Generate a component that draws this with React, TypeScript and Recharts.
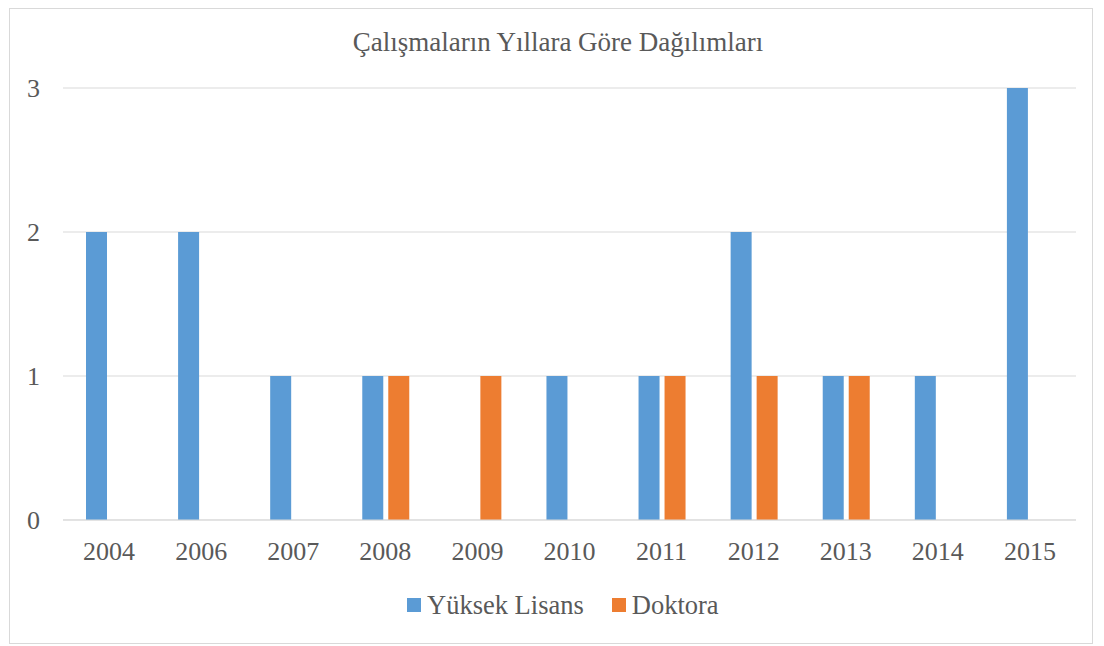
import { BarChart, Bar, XAxis, YAxis, CartesianGrid } from "recharts"

const years = ["2004", "2006", "2007", "2008", "2009", "2010", "2011", "2012", "2013", "2014", "2015"]
const yuksekLisans = [2, 2, 1, 1, 0, 1, 1, 2, 1, 1, 3]
const doktora = [0, 0, 0, 1, 1, 0, 1, 1, 1, 0, 0]
const yTicks = [0, 1, 2, 3]

const title = "Çalışmaların Yıllara Göre Dağılımları"
const seriesNames = ["Yüksek Lisans", "Doktora"]
const colors = ["#5B9BD5", "#ED7D31"]

const FONT = '"Liberation Serif", "Times New Roman", serif'
const TEXT = "#595959"
const GRID = "#D9D9D9"

export default function App() {
  const data = years.map((y, i) => ({
    year: y,
    yl: yuksekLisans[i],
    dr: doktora[i],
  }))

  return (
    <div style={{ position: "absolute", left: 0, top: 0, width: 1104, height: 646, background: "#fff", fontFamily: FONT }}>
      <div
        style={{
          position: "absolute",
          left: 9,
          top: 8,
          width: 1082,
          height: 634,
          border: "1px solid #D9D9D9",
        }}
      />
      <div
        style={{
          position: "absolute",
          left: 6,
          width: 1104,
          top: 26,
          textAlign: "center",
          fontSize: 27,
          color: TEXT,
          lineHeight: "32px",
        }}
      >
        {title}
      </div>
      <div style={{ position: "absolute", left: 0, top: 0 }}>
        <BarChart
          width={1104}
          height={646}
          data={data}
          margin={{ top: 88, right: 28, left: 8, bottom: 66 }}
          barCategoryGap="24.5%"
          barGap={5}
        >
          <CartesianGrid vertical={false} stroke={GRID} strokeWidth={1} />
          <XAxis
            dataKey="year"
            height={60}
            axisLine={{ stroke: GRID }}
            tickLine={false}
            tickSize={0}
            tickMargin={22}
            tick={{ fill: TEXT, fontSize: 26, fontFamily: FONT }}
            interval={0}
          />
          <YAxis
            width={55}
            domain={[0, 3]}
            ticks={yTicks}
            axisLine={false}
            tickLine={false}
            tickSize={0}
            tickMargin={23}
            tick={{ fill: TEXT, fontSize: 26, fontFamily: FONT }}
          />
          <Bar dataKey="yl" name={seriesNames[0]} fill={colors[0]} barSize={21} isAnimationActive={false} />
          <Bar dataKey="dr" name={seriesNames[1]} fill={colors[1]} barSize={21} isAnimationActive={false} />
        </BarChart>
      </div>
      <div
        style={{
          position: "absolute",
          left: 407,
          top: 589,
          display: "flex",
          alignItems: "center",
          fontSize: 26.5,
          color: TEXT,
          lineHeight: "32px",
          whiteSpace: "nowrap",
        }}
      >
        {seriesNames.map((n, i) => (
          <div key={n} style={{ display: "flex", alignItems: "center", marginRight: i === 0 ? 28 : 0 }}>
            <span style={{ display: "inline-block", width: 14, height: 14, background: colors[i], marginRight: 6 }} />
            <span>{n}</span>
          </div>
        ))}
      </div>
    </div>
  )
}
